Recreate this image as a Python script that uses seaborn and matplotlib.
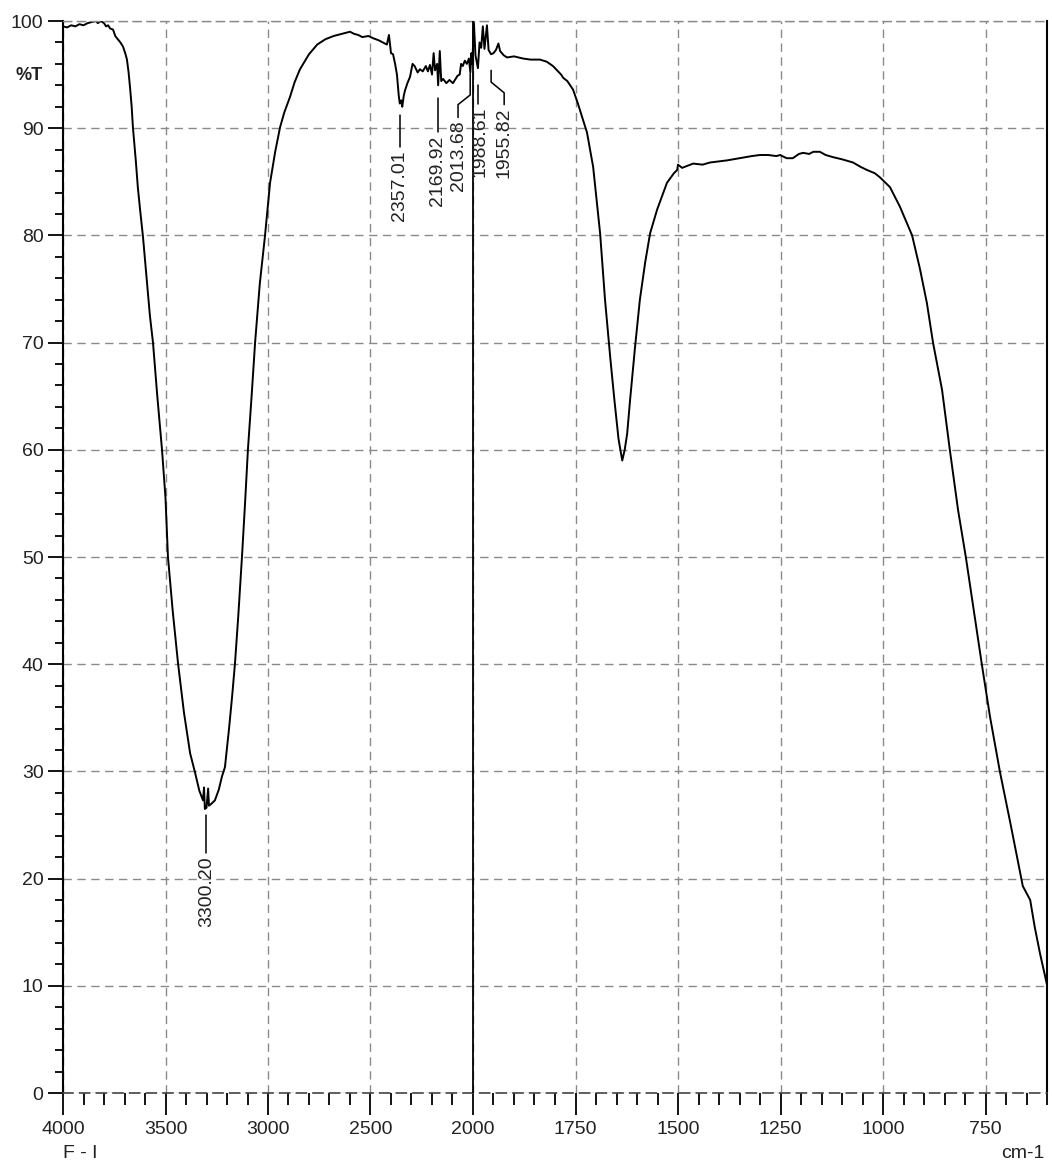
import numpy as np
import pandas as pd
import matplotlib
matplotlib.use("Agg")
import matplotlib.pyplot as plt
import seaborn as sns

# ---------------- data ----------------
wavenumber = [4000, 3980, 3960, 3940, 3920, 3900, 3880, 3860, 3840, 3830, 3815, 3800, 3790, 3780,
              3770, 3756, 3745, 3737, 3720, 3707, 3695, 3688, 3680, 3673, 3665, 3659, 3645, 3635,
              3624, 3610, 3590, 3576, 3561, 3540, 3517, 3500, 3488, 3465, 3439, 3410, 3380, 3356,
              3335, 3317, 3312, 3308, 3300, 3292, 3288, 3275, 3259, 3240, 3225, 3210, 3190, 3175,
              3161, 3145, 3127, 3112, 3098, 3080, 3063, 3040, 3015, 2990, 2965, 2941, 2920, 2893,
              2870, 2844, 2800, 2760, 2720, 2680, 2640, 2600, 2580, 2560, 2540, 2510, 2488, 2460,
              2440, 2420, 2410, 2400, 2390, 2380, 2371, 2362, 2357, 2350, 2345, 2338, 2332, 2320,
              2307, 2295, 2285, 2270, 2259, 2245, 2230, 2220, 2210, 2200, 2192, 2185, 2175, 2170,
              2162, 2155, 2146, 2130, 2115, 2098, 2085, 2075, 2065, 2058, 2050, 2040, 2030, 2020,
              2013, 2008, 2003, 1998, 1994, 1988, 1984, 1980, 1976, 1972, 1966, 1962, 1956, 1950,
              1944, 1938, 1934, 1925, 1917, 1900, 1878, 1860, 1837, 1820, 1805, 1795, 1785, 1780,
              1770, 1756, 1745, 1732, 1722, 1707, 1690, 1678, 1665, 1655, 1645, 1640, 1636, 1630,
              1624, 1617, 1605, 1593, 1580, 1568, 1551, 1527, 1510, 1502, 1500, 1490, 1463, 1440,
              1422, 1400, 1380, 1350, 1320, 1300, 1280, 1260, 1251, 1235, 1220, 1205, 1195, 1180,
              1170, 1154, 1140, 1122, 1100, 1073, 1055, 1039, 1020, 1007, 983, 959, 929, 910,
              893, 878, 856, 837, 817, 798, 780, 759, 739, 715, 690, 673, 659, 641, 630, 617, 600]
transmittance = [99.5, 99.4, 99.6, 99.5, 99.7, 99.6, 99.8, 99.9, 100.0, 99.8, 100.0, 99.8, 99.5, 99.6,
                 99.3, 99.2, 98.6, 98.4, 98.0, 97.6, 96.9, 96.4, 95.2, 93.8, 92.0, 90.1, 87.0, 84.5,
                 82.4, 79.9, 75.5, 72.5, 70.0, 65.0, 60.0, 55.5, 50.0, 45.0, 40.1, 35.5, 31.7, 29.9,
                 28.2, 27.3, 28.5, 26.5, 26.6, 28.4, 26.8, 27.0, 27.3, 28.3, 29.5, 30.4, 34.0, 37.0,
                 40.1, 44.5, 50.0, 55.0, 60.0, 65.0, 70.0, 75.5, 79.9, 84.9, 87.8, 90.1, 91.5, 92.9,
                 94.3, 95.5, 96.9, 97.8, 98.3, 98.6, 98.8, 99.0, 98.8, 98.7, 98.5, 98.6, 98.4, 98.2,
                 98.0, 97.8, 98.7, 97.0, 96.9, 96.0, 95.0, 93.0, 92.3, 92.6, 92.0, 93.0, 93.5, 94.2,
                 94.8, 96.0, 95.8, 95.2, 95.5, 95.3, 95.8, 95.3, 95.9, 95.0, 97.0, 95.4, 96.0, 94.0,
                 97.2, 94.4, 94.6, 94.2, 94.5, 94.2, 94.6, 94.9, 95.0, 96.0, 95.8, 96.3, 96.0, 96.5,
                 95.2, 97.0, 96.0, 100.0, 96.8, 95.6, 98.0, 97.5, 99.5, 97.4, 99.6, 97.3, 96.9, 97.0,
                 97.3, 97.9, 97.2, 96.8, 96.6, 96.7, 96.5, 96.4, 96.4, 96.2, 95.8, 95.4, 95.0, 94.7,
                 94.4, 93.6, 92.4, 90.8, 89.6, 86.4, 80.2, 74.0, 68.5, 64.6, 61.0, 59.9, 59.0, 60.0,
                 61.5, 64.6, 69.5, 74.0, 77.5, 80.2, 82.4, 84.9, 85.8, 86.1, 86.6, 86.3, 86.7, 86.6,
                 86.8, 86.9, 87.0, 87.2, 87.4, 87.5, 87.5, 87.4, 87.5, 87.2, 87.2, 87.6, 87.7, 87.6,
                 87.8, 87.8, 87.5, 87.3, 87.1, 86.8, 86.4, 86.1, 85.8, 85.4, 84.5, 82.7, 80.0, 76.9,
                 73.7, 70.0, 65.6, 60.0, 54.4, 50.0, 45.4, 40.0, 35.1, 30.0, 25.3, 22.0, 19.3, 18.0,
                 15.5, 13.0, 10.1]

x_major_ticks = [4000, 3500, 3000, 2500, 2000, 1750, 1500, 1250, 1000, 750]
x_tick_labels = ["4000", "3500", "3000", "2500", "2000", "1750", "1500", "1250", "1000", "750"]
y_major_ticks = [0, 10, 20, 30, 40, 50, 60, 70, 80, 90, 100]

# peak annotations
peak_wn = [3300.20, 2357.01, 2169.92, 2013.68, 1988.61, 1955.82]
peak_labels = ["3300.20", "2357.01", "2169.92", "2013.68", "1988.61", "1955.82"]

df = pd.DataFrame({"wavenumber": wavenumber, "T": transmittance})

# ---------------- styling ----------------
sns.set_theme(style="white")
plt.rcParams["font.family"] = ["Liberation Sans", "DejaVu Sans"]
FS = 14


def forward(w):
    w = np.asarray(w, dtype=float)
    return np.where(w > 2000, 2000 + (w - 2000) / 2.0, w)


def inverse(f):
    f = np.asarray(f, dtype=float)
    return np.where(f > 2000, 2000 + (f - 2000) * 2.0, f)


fig = plt.figure(figsize=(10.52, 11.62), dpi=100)
ax = fig.add_axes([63 / 1052, 1 - 1093 / 1162, (1047 - 63) / 1052, (1093 - 21) / 1162])
ax.set_xscale("function", functions=(forward, inverse))

sns.lineplot(data=df, x="wavenumber", y="T", ax=ax, color="black", lw=1.4,
             estimator=None, sort=False)

ax.set_xlim(4000, 600)
ax.set_ylim(0, 100)

ax.set_xticks(x_major_ticks)
ax.set_xticklabels(x_tick_labels)
minor_x = [v for v in range(4000, 2000, -100) if v not in x_major_ticks] + \
          [v for v in range(2000, 599, -50) if v not in x_major_ticks]
ax.set_xticks(minor_x, minor=True)
ax.set_yticks(y_major_ticks)
ax.set_yticks(list(range(0, 101, 2)), minor=True)

ax.grid(True, which="major", color="#8a8a8a", linestyle=(0, (6, 4)), lw=1.0)
ax.axvline(2000, color="black", lw=1.3, zorder=3)

for s in ["left", "right"]:
    ax.spines[s].set_color("black")
    ax.spines[s].set_linewidth(1.5)
ax.spines["top"].set_color("#8a8a8a")
ax.spines["top"].set_linestyle((0, (6, 4)))
ax.spines["top"].set_linewidth(1.0)
ax.spines["bottom"].set_color("#444444")
ax.spines["bottom"].set_linestyle((0, (6, 4)))
ax.spines["bottom"].set_linewidth(1.2)

ax.tick_params(axis="x", which="major", direction="out", length=16, width=1.3,
               color="black", labelsize=FS, pad=4, bottom=True)
ax.tick_params(axis="x", which="minor", direction="out", length=8.5, width=1.3,
               color="black", bottom=True)
ax.tick_params(axis="y", which="major", direction="out", length=11, width=1.3,
               color="black", labelsize=FS, pad=3, left=True)
ax.tick_params(axis="y", which="minor", direction="out", length=6, width=1.3,
               color="black", left=True)
for lab in ax.get_xticklabels() + ax.get_yticklabels():
    lab.set_color("#222222")

ax.set_xlabel("")
ax.set_ylabel("")

# ---------------- peak labels ----------------
# (line start, bend1, bend2, text top) in %T, and text position in cm-1
leader = {
    "3300.20": dict(tx=3300.2, lx=3300.2, ys=25.9, y1=22.4, y2=22.4, yt=22.4),
    "2357.01": dict(tx=2357.01, lx=2357.01, ys=91.2, y1=88.2, y2=88.2, yt=88.2),
    "2169.92": dict(tx=2172.0, lx=2172.0, ys=92.8, y1=89.6, y2=89.6, yt=89.6),
    "2013.68": dict(tx=2073.0, lx=2073.0, ys=95.1, y1=93.1, y2=92.2, yt=91.0),
    "1988.61": dict(tx=1983.0, lx=1988.61, ys=94.0, y1=92.6, y2=92.6, yt=92.3),
    "1955.82": dict(tx=1924.0, lx=1924.0, ys=95.4, y1=94.3, y2=93.3, yt=92.2),
}
for wn, lab in zip(peak_wn, peak_labels):
    d = leader[lab]
    xs = [wn, wn, d["lx"], d["lx"]]
    ys = [d["ys"], d["y1"], d["y2"], d["yt"]]
    ax.plot(xs, ys, color="black", lw=1.1, zorder=4)
    ax.text(d["tx"], d["yt"] - 0.3, lab, rotation=90, ha="center", va="top",
            fontsize=FS, color="#222222", zorder=5,
            bbox=dict(facecolor="white", edgecolor="none", pad=0.5, alpha=0.0))

fig.text(15 / 1052, 1 - 75 / 1162, "%T", fontsize=FS - 1, va="center", ha="left",
         color="#222222", fontweight="bold")
fig.text(80 / 1052, 1 - 1153 / 1162, "F - I", fontsize=FS, va="center", ha="center",
         color="#222222")
fig.text(1045 / 1052, 1 - 1153 / 1162, "cm-1", fontsize=FS, va="center", ha="right",
         color="#222222")

fig.savefig("out.png", dpi=100, facecolor="white")
